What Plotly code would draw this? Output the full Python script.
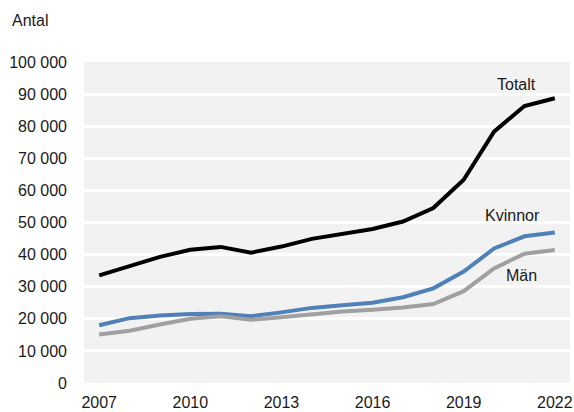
import plotly.graph_objects as go

years = list(range(2007, 2023))
totalt = [33500, 36500, 39300, 41500, 42400, 40600, 42500, 44900, 46600, 48000, 50300, 54500, 63300, 78300, 86300, 88700]
kvinnor = [18000, 20200, 21000, 21500, 21600, 20800, 22000, 23400, 24200, 25000, 26700, 29500, 34700, 41900, 45700, 46900]
man = [15100, 16300, 18200, 20000, 20800, 19700, 20500, 21500, 22300, 22800, 23500, 24600, 28600, 35700, 40300, 41400]

series_names = ["Totalt", "Kvinnor", "Män"]
colors = ["#000000", "#5080b8", "#a0a0a0"]
y_ticks = list(range(0, 100001, 10000))
y_tick_text = [f"{v:,}".replace(",", " ") for v in y_ticks]
x_ticks = [2007, 2010, 2013, 2016, 2019, 2022]

fig = go.Figure()
for name, vals, col in zip(series_names, [totalt, kvinnor, man], colors):
    fig.add_trace(go.Scatter(x=years, y=vals, mode="lines", name=name,
                             line=dict(color=col, width=4), hoverinfo="skip"))

font = dict(family="Liberation Sans, Arial, sans-serif", size=16, color="#1a1a1a")

# series labels
fig.add_annotation(x=2020.75, y=93000, text="Totalt", showarrow=False, font=font)
fig.add_annotation(x=2020.6, y=52300, text="Kvinnor", showarrow=False, font=font)
fig.add_annotation(x=2020.9, y=33600, text="Män", showarrow=False, font=font)
fig.add_annotation(xref="paper", yref="paper", x=-0.152, y=1.128, xanchor="left", yanchor="middle",
                   text="Antal", showarrow=False, font=font)

fig.update_layout(
    width=574, height=412,
    margin=dict(l=84, r=4, t=62, b=29, autoexpand=False),
    paper_bgcolor="white", plot_bgcolor="#f2f2f2",
    showlegend=False, font=font,
)
fig.update_xaxes(range=[2006.5, 2022.5], tickvals=x_ticks, showgrid=False, zeroline=False,
                 showline=False, ticks="", ticklabelstandoff=8, automargin=False)
fig.update_yaxes(range=[0, 100000], tickvals=y_ticks, ticktext=y_tick_text, showgrid=True,
                 gridcolor="white", gridwidth=3, zeroline=False, showline=False, ticks="",
                 ticklabelstandoff=16, automargin=False)

fig.write_html("out.html", config={"displayModeBar": False, "staticPlot": True},
               post_script="document.body.style.margin='0';document.body.style.padding='0';document.body.style.overflow='hidden';")
